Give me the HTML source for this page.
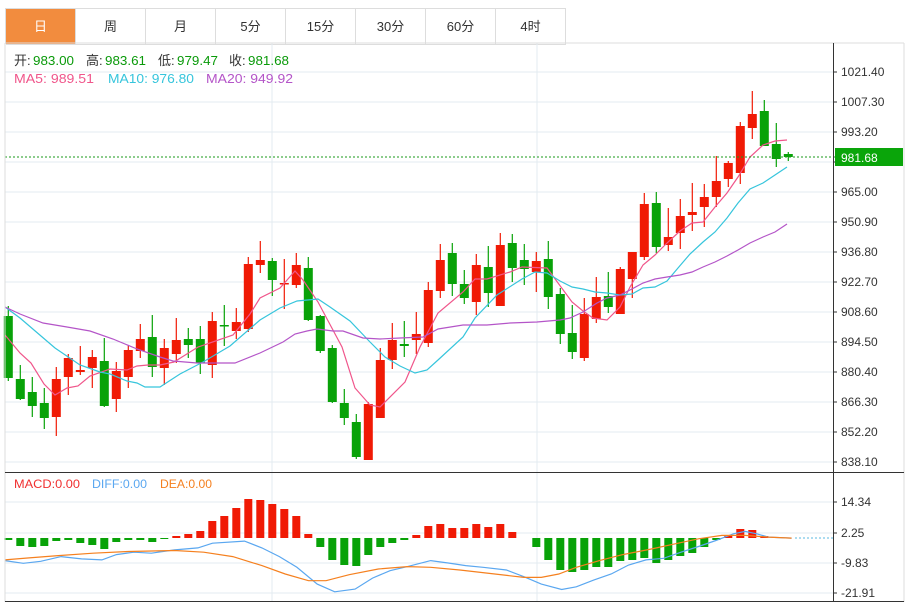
<!DOCTYPE html>
<html><head><meta charset="utf-8"><style>
body{margin:0;background:#fff;width:908px;height:604px;overflow:hidden;font-family:"Liberation Sans","Noto Sans CJK SC",sans-serif}
.tabs{position:absolute;left:5px;top:8px;height:35px;display:flex;border-left:1px solid #ddd;border-top:1px solid #ddd}
.tabs div{width:69px;height:35px;border-right:1px solid #ddd;border-bottom:1px solid #ddd;font-size:13px;color:#333;text-align:center;line-height:35px}
.tabs div.on{background:#f28c3e;color:#fff}
svg{position:absolute;left:0;top:0}
</style></head><body>
<div class="tabs"><div class="on">日</div><div>周</div><div>月</div><div>5分</div><div>15分</div><div>30分</div><div>60分</div><div>4时</div></div>
<svg id="s" width="908" height="604" font-family="Liberation Sans, Noto Sans CJK SC, sans-serif">
<g id="grid"></g>
<g id="c"></g>
<line x1="5" y1="157" x2="835" y2="157" stroke="#1a9a1a" stroke-dasharray="2,2"/>
<rect x="835" y="148" width="68" height="18" fill="#0aa50a"/>
<text x="841" y="162" font-size="12" fill="#fff">981.68</text>
<line x1="5" y1="43" x2="904" y2="43" stroke="#ddd"/>
<line x1="904" y1="43" x2="904" y2="602" stroke="#ddd"/>
<line x1="5" y1="43" x2="5" y2="602" stroke="#ddd"/>
<line x1="833.5" y1="43" x2="833.5" y2="602" stroke="#333"/>
<line x1="5" y1="472.5" x2="904" y2="472.5" stroke="#333"/>
<line x1="5" y1="601.5" x2="904" y2="601.5" stroke="#333"/>
<g font-size="12" fill="#333">
<text x="841" y="76">1021.40</text><text x="841" y="106">1007.30</text><text x="841" y="136">993.20</text>
<text x="841" y="196">965.00</text><text x="841" y="226">950.90</text><text x="841" y="256">936.80</text>
<text x="841" y="286">922.70</text><text x="841" y="316">908.60</text><text x="841" y="346">894.50</text>
<text x="841" y="376">880.40</text><text x="841" y="406">866.30</text><text x="841" y="436">852.20</text>
<text x="841" y="466">838.10</text>
<text x="841" y="506">14.34</text><text x="841" y="537">2.25</text><text x="841" y="567">-9.83</text><text x="841" y="597">-21.91</text>
</g>
<g font-size="13">
<text x="14" y="65" fill="#333">开:</text><text x="33" y="65" fill="#0a9a0a" textLength="41" lengthAdjust="spacingAndGlyphs">983.00</text>
<text x="86" y="65" fill="#333">高:</text><text x="105" y="65" fill="#0a9a0a" textLength="41" lengthAdjust="spacingAndGlyphs">983.61</text>
<text x="158" y="65" fill="#333">低:</text><text x="177" y="65" fill="#0a9a0a" textLength="41" lengthAdjust="spacingAndGlyphs">979.47</text>
<text x="229" y="65" fill="#333">收:</text><text x="248" y="65" fill="#0a9a0a" textLength="41" lengthAdjust="spacingAndGlyphs">981.68</text>
<text x="14" y="83" fill="#f0568b" textLength="80" lengthAdjust="spacingAndGlyphs">MA5: 989.51</text>
<text x="108" y="83" fill="#36c5dc" textLength="86" lengthAdjust="spacingAndGlyphs">MA10: 976.80</text>
<text x="206" y="83" fill="#b455c8" textLength="87" lengthAdjust="spacingAndGlyphs">MA20: 949.92</text>
</g>
<g font-size="12">
<text x="14" y="488" fill="#f03030" textLength="66" lengthAdjust="spacingAndGlyphs">MACD:0.00</text>
<text x="92" y="488" fill="#5aa7f0" textLength="55" lengthAdjust="spacingAndGlyphs">DIFF:0.00</text>
<text x="160" y="488" fill="#f5801f" textLength="52" lengthAdjust="spacingAndGlyphs">DEA:0.00</text>
</g>
</svg>
<script>
var g='',c='';
for(var k=0;k<14;k++){var y=72+30*k;g+='<line x1="5" y1="'+y+'" x2="833" y2="'+y+'" stroke="#e3ebf1"/><line x1="833" y1="'+y+'" x2="837" y2="'+y+'" stroke="#333"/>';}
[502,533,563,593].forEach(function(y){g+='<line x1="5" y1="'+y+'" x2="833" y2="'+y+'" stroke="#e3ebf1"/><line x1="833" y1="'+y+'" x2="837" y2="'+y+'" stroke="#333"/>';});
g+='<line x1="272" y1="43" x2="272" y2="601" stroke="#e3ebf1"/><line x1="537" y1="43" x2="537" y2="601" stroke="#e3ebf1"/>';
g+='<line x1="795" y1="538" x2="833" y2="538" stroke="#5ab8e0" stroke-dasharray="2,2"/>';
var K=[[306,316,378,381,'g'],[365,379,399,400,'g'],[377,392,406,417,'g'],[388,403,418,429,'g'],[367,379,417,436,'r'],[354,358,377,395,'r'],[346,370,372,375,'r'],[350,357,368,388,'r'],[338,361,406,407,'g'],[362,371,399,412,'r'],
[345,350,377,388,'r'],[324,339,351,358,'r'],[315,337,367,377,'g'],[339,348,368,385,'r'],[318,340,354,363,'r'],[328,339,345,358,'g'],[326,339,363,374,'g'],[312,321,365,378,'r'],[305,325,326,346,'g'],[308,322,331,339,'r'],
[257,264,329,332,'r'],[241,260,265,273,'r'],[258,261,280,296,'g'],[259,283,284,309,'r'],[253,265,285,288,'r'],[257,268,320,321,'g'],[315,316,351,353,'g'],[345,348,402,403,'g'],[389,403,418,425,'g'],[414,422,457,459,'g'],
[402,404,460,460,'r'],[348,360,418,418,'r'],[323,340,360,369,'r'],[321,344,346,357,'g'],[312,334,340,354,'r'],[282,290,343,347,'r'],[244,260,291,298,'r'],[243,253,284,296,'g'],[270,284,298,304,'g'],[254,265,302,315,'r'],
[246,267,293,307,'g'],[233,245,306,306,'r'],[234,243,268,282,'g'],[244,260,269,285,'g'],[252,261,272,292,'r'],[241,259,297,309,'g'],[288,294,334,344,'g'],[305,333,352,359,'g'],[298,314,358,361,'r'],[277,297,319,323,'r'],
[272,296,307,313,'g'],[267,269,314,314,'r'],[252,252,279,298,'r'],[193,204,257,260,'r'],[192,203,247,253,'g'],[208,237,245,251,'r'],[199,216,233,249,'r'],[183,212,215,231,'r'],[184,197,207,227,'r'],[156,181,197,207,'r'],
[161,163,179,187,'r'],[122,126,173,184,'r'],[91,114,128,139,'r'],[100,111,146,146,'g'],[123,144,159,167,'g'],[152,154,157,161,'g']];
K.forEach(function(d,i){var x=8.3+12*i,col=d[4]=='r'?'#f01a05':'#08a208';var h=Math.max(1.5,d[2]-d[1]);
c+='<line x1="'+x+'" y1="'+d[0]+'" x2="'+x+'" y2="'+d[3]+'" stroke="'+col+'" stroke-width="1.2"/><rect x="'+(x-4.5)+'" y="'+d[1]+'" width="9" height="'+h+'" fill="'+col+'"/>';});
function pl(p,col){c+='<polyline fill="none" stroke="'+col+'" stroke-width="1.2" points="'+p+'"/>';}
pl("5,335 20,353 31,363 44,384 55,395 67,388 78,386 90,376 110,369 127,370 137,366 148,365 160,365 174,362 198,347 233,335 250,314 260,298 280,288 295,271 303,280 318,302 342,347 355,388 370,405 380,407 405,382 420,347 438,313 463,292 475,279 487,279 510,272 522,267 547,268 572,302 583,311 593,318 607,320 620,307 630,287 643,265 655,255 667,243 680,231 692,223 703,222 715,207 727,193 738,177 750,157 763,145 775,141 787,140","#f0568b");
pl("5,307 20,318 55,348 80,365 100,372 110,374 127,381 137,383 145,387 160,387 180,374 203,362 230,346 260,320 280,308 297,301 318,299 330,307 350,321 370,342 385,357 400,366 415,373 427,370 438,360 463,337 475,318 497,295 522,279 535,272 547,273 560,281 572,287 583,289 595,292 607,293 620,295 632,294 643,288 655,287 667,281 678,268 690,254 703,242 715,232 727,218 738,203 750,189 763,183 775,175 787,167","#36c5dc");
pl("5,307 20,314 43,323 67,327 90,331 113,339 137,349 160,357 173,361 197,363 213,363 235,363 260,353 283,342 295,334 307,331 317,329 333,331 343,331 363,338 380,339 400,338 423,337 438,329 463,325 487,325 510,323 537,322 560,320 570,318 583,312 597,303 607,298 620,295 630,290 643,283 655,279 667,277 680,275 692,272 703,267 715,262 727,256 738,250 750,243 763,237 775,232 787,224","#b455c8");
var M=[540,546,547,546,541,540,543,545,549,542,540,540,542,539,536,534,531,521,516,508,499,500,504,509,516,534,547,560,565,566,555,547,543,540,535,526,524,528,528,524,527,524,532,538,547,560,570,572,570,567,567,561,560,558,563,560,556,553,547,540,536,529,530,536,537,538];
M.forEach(function(v,i){var x=8.3+12*i;if(Math.abs(v-538)<0.6)return;var col=v<538?'#f01a05':'#08a208';var y=Math.min(v,538),h=Math.abs(v-538);c+='<rect x="'+(x-4)+'" y="'+y+'" width="8" height="'+h+'" fill="'+col+'"/>';});
function cv(a){return a.map(function(p){return (p[0]/1.718).toFixed(1)+','+(470+p[1]/2.98).toFixed(1)}).join(' ');}
pl(cv([[8,270],[40,278],[70,272],[105,258],[140,265],[175,268],[200,252],[230,245],[260,248],[300,238],[340,232],[365,218],[420,212],[450,232],[480,258],[510,290],[545,340],[575,363],[610,355],[640,322],[670,300],[700,288],[740,270],[770,277],[800,285],[830,290],[870,298],[900,318],[930,340],[965,356],[990,348],[1020,328],[1050,310],[1080,283],[1110,268],[1140,263],[1170,245],[1200,228],[1230,210],[1260,190],[1280,183],[1300,190],[1320,200],[1360,203]]),"#5aa7f0");
pl(cv([[8,268],[50,262],[100,255],[160,248],[220,243],[300,240],[350,245],[400,258],[450,285],[490,310],[530,330],[560,330],[600,312],[650,295],[700,288],[740,290],[790,298],[850,310],[900,320],[930,320],[960,310],[990,290],[1030,270],[1070,252],[1120,235],[1160,220],[1200,205],[1240,195],[1280,195],[1320,200],[1360,203]]),"#f5801f");
document.getElementById('grid').innerHTML=g;document.getElementById('c').innerHTML=c;
</script>
</body></html>
